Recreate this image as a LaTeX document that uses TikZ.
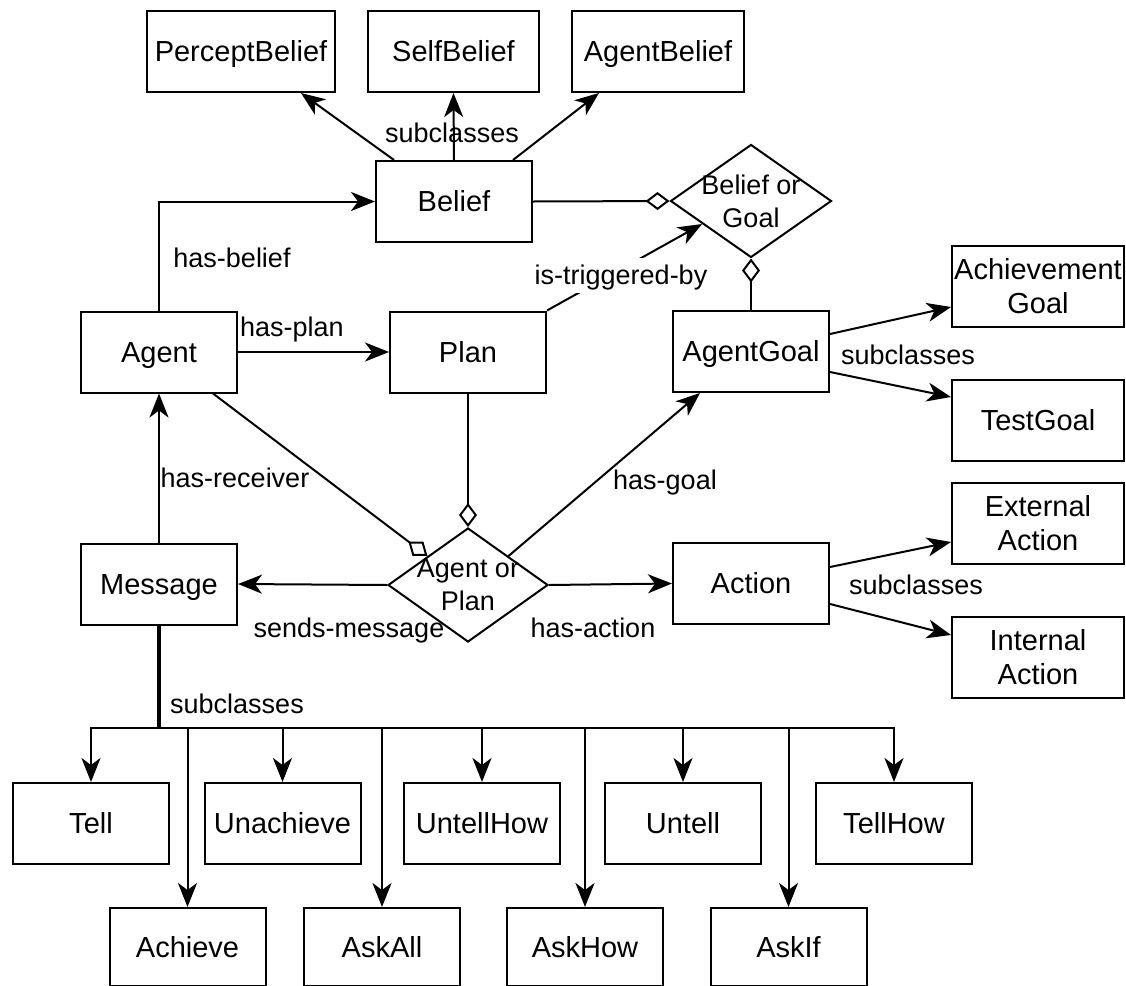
\documentclass[tikz,border=0pt]{standalone}
\usepackage{fontspec}
\setmainfont{Liberation Sans}
\usetikzlibrary{arrows.meta,shapes.geometric,calc}
\begin{document}
\begin{tikzpicture}[x=0.5pt,y=-0.5pt,
  mbox/.style={draw,line width=1pt,inner sep=0pt,minimum width=78pt,minimum height=40.5pt,align=center,font=\fontsize{14.5}{17}\selectfont},
  box/.style={mbox,text height=13.5pt,text depth=3.1pt},
  dia/.style={draw,diamond,line width=1pt,inner sep=0pt,minimum width=80.5pt,minimum height=56.5pt},
  diatext/.style={align=center,inner sep=0pt,font=\fontsize{13.5}{16.5}\selectfont},
  lbl/.style={font=\fontsize{13.5}{16}\selectfont,inner sep=1pt,text height=12.6pt,text depth=2.9pt},
  arr/.style={line width=1pt,-{Stealth[length=12pt,width=9.5pt,inset=3.5pt]}},
  agg/.style={line width=1pt,-{Diamond[open,length=12pt,width=9pt,line width=1pt]}}]
\useasboundingbox (0,0) rectangle (1126,986);
% top row
\node[box,minimum width=94pt] (pb) at (241,51.5) {PerceptBelief};
\node[box,minimum width=85.5pt] (sb) at (453.5,51.5) {SelfBelief};
\node[box,minimum width=86pt] (ab) at (658,51.5) {AgentBelief};
% middle
\node[box] (belief) at (454,201.5) {Belief};
\node[dia] (bog) at (751,201) {};
\node[diatext] (bogt) at (bog.center) {Belief or\\Goal};
\node[box] (agent) at (159,352) {Agent};
\node[box] (plan) at (468,352) {Plan};
\node[box] (agentgoal) at (751,351.5) {AgentGoal};
\node[mbox,minimum width=86pt] (achg) at (1038,286.5) {Achievement\\Goal};
\node[box,minimum width=86pt] (testg) at (1038,420.5) {TestGoal};
\node[mbox,minimum width=86pt] (extact) at (1038,523) {External\\Action};
\node[mbox,minimum width=86pt] (intact) at (1038,657) {Internal\\Action};
\node[box] (message) at (159,584) {Message};
\node[dia,minimum width=80pt,minimum height=57pt] (aop) at (468,585) {};
\node[diatext] (aopt) at (aop.center) {Agent or\\Plan};
\node[box] (action) at (751,583.5) {Action};
% bottom rows
\node[box] (tell) at (91,823.5) {Tell};
\node[box] (unach) at (282.5,823.5) {Unachieve};
\node[box] (untellhow) at (482,823.5) {UntellHow};
\node[box] (untell) at (683,823.5) {Untell};
\node[box] (tellhow) at (894,823.5) {TellHow};
\node[box,minimum height=39pt] (achieve) at (187.5,947) {Achieve};
\node[box,minimum height=39pt] (askall) at (382,947) {AskAll};
\node[box,minimum height=39pt] (askhow) at (585,947) {AskHow};
\node[box,minimum height=39pt] (askif) at (788.5,947) {AskIf};
% belief subclasses
\draw[arr] ([xshift=9.5pt]belief.north west) -- ([xshift=-17.5pt]pb.south east);
\draw[arr] (belief.north) -- (sb.south);
\draw[arr] ([xshift=-10pt]belief.north east) -- ([xshift=14pt]ab.south west);
\node[lbl] (lsub1) at (452,133) {subclasses};
% relations
\draw[arr] (agent.north) |- (belief.west);
\node[lbl] (lbel) at (232,258) {has-belief};
\draw[agg] (belief.east) -- (bog.west);
\draw[agg] (agentgoal.north) -- (bog.south);
\draw[arr] (plan.north east) -- ($(bog.west)!0.4!(bog.south)$);
\node[lbl,fill=white] (ltrig) at (621,275) {is-triggered-by};
\draw[arr] (agent.east) -- (plan.west);
\node[lbl] (lplan) at (292,327) {has-plan};
\draw[agg] ([xshift=27pt]agent.south) -- ($(aop.north)!0.5!(aop.west)$);
\draw[agg] (plan.south) -- (aop.north);
\draw[arr] ($(aop.north)!0.5!(aop.east)$) -- ([xshift=-25.5pt]agentgoal.south);
\node[lbl] (lgoal) at (665,480) {has-goal};
\draw[arr] (message.north) -- (agent.south);
\node[lbl] (lrec) at (235,478) {has-receiver};
\draw[arr] (aop.west) -- (message.east);
\node[lbl] (lsend) at (349,628) {sends-message};
\draw[arr] (aop.east) -- (action.west);
\node[lbl] (lact) at (593,628) {has-action};
% goal subclasses
\draw[arr] ([yshift=8.75pt]agentgoal.east) -- ([yshift=-10.25pt]achg.west);
\draw[arr] ([yshift=-10.25pt]agentgoal.east) -- ([yshift=11.75pt]testg.west);
\node[lbl] (lsub2) at (908,355) {subclasses};
% action subclasses
\draw[arr] ([yshift=8.25pt]action.east) -- ([yshift=-9.5pt]extact.west);
\draw[arr] ([yshift=-10.25pt]action.east) -- ([yshift=11pt]intact.west);
\node[lbl] (lsub3) at (916,585) {subclasses};
% message subclasses
\coordinate (bus) at (159,728);
\draw[line width=2pt] (message.south) -- (bus);
\node[lbl] (lsub4) at (237,704) {subclasses};
\foreach \n in {tell,unach,untellhow,untell,tellhow,achieve,askall,askhow,askif}
  \draw[arr] (bus) -| (\n.north);
\end{tikzpicture}
\end{document}
